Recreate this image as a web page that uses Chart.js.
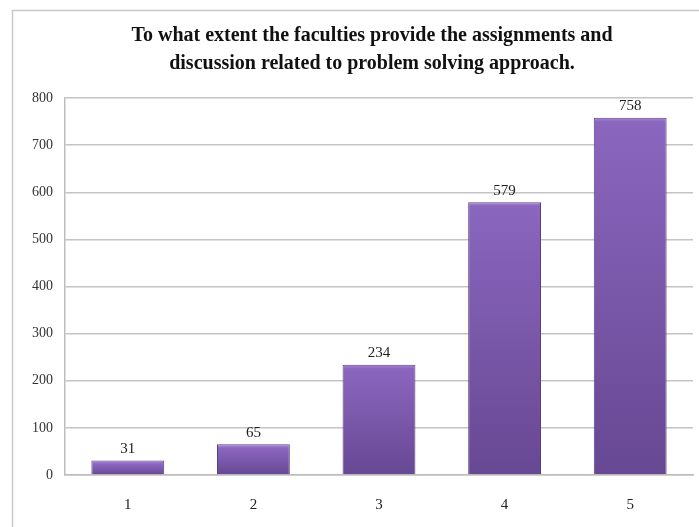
<!DOCTYPE html>
<html>
<head>
<meta charset="utf-8">
<script src="https://cdn.jsdelivr.net/npm/chart.js@4.4.1/dist/chart.umd.min.js"></script>
<style>
  html, body { margin: 0; padding: 0; background: #fff; }
  #wrap { width: 699px; height: 527px; }
</style>
</head>
<body>
<div id="wrap"><canvas id="chart" width="699" height="527"></canvas></div>
<script>
const categories = ["1", "2", "3", "4", "5"];
const responses = [31, 65, 234, 579, 758];
const yTicks = [0, 100, 200, 300, 400, 500, 600, 700, 800];
const chartTitle = ["To what extent the faculties provide the assignments and", "discussion related to problem solving approach."];

const serif = "'Liberation Serif', 'DejaVu Serif', serif";

// outer frame and the title, drawn like the office chart
const framePlugin = {
    id: "frame",
    beforeDraw(chart) {
        let ctx = chart.ctx;
        ctx.save();
        ctx.strokeStyle = "#c8c8c8";
        ctx.lineWidth = 1.5;
        ctx.beginPath();
        ctx.moveTo(12.5, 527);
        ctx.lineTo(12.5, 10.5);
        ctx.lineTo(699, 10.5);
        ctx.stroke();

        ctx.fillStyle = "#111";
        ctx.font = "bold 20px " + serif;
        ctx.textAlign = "center";
        ctx.textBaseline = "middle";
        ctx.fillText(chartTitle[0], 372, 36);
        ctx.fillText(chartTitle[1], 372, 64);
        ctx.restore();
    }
};

// value labels above the bars
const valueLabels = {
    id: "valueLabels",
    afterDatasetsDraw(chart) {
        let ctx = chart.ctx;
        let meta = chart.getDatasetMeta(0);
        ctx.save();
        ctx.font = "15px " + serif;
        ctx.fillStyle = "#222";
        ctx.textAlign = "center";
        ctx.textBaseline = "bottom";
        meta.data.forEach((bar, i) => {
            ctx.fillText(responses[i], bar.x, bar.y - 4);
        });
        ctx.restore();
    }
};

function barFill(context) {
    let chart = context.chart;
    let y = chart.scales.y;
    if (!y || !chart.chartArea) return "#7d5cb0";
    let top = y.getPixelForValue(responses[context.dataIndex]);
    let bottom = y.getPixelForValue(0);
    let h = Math.max(bottom - top, 1);
    let g = chart.ctx.createLinearGradient(0, top, 0, bottom);
    g.addColorStop(0, "#a98ad8");
    g.addColorStop(Math.min(4 / h, 0.5), "#8a66be");
    g.addColorStop(1, "#674893");
    return g;
}

new Chart(document.getElementById("chart"), {
    type: "bar",
    data: {
        labels: categories,
        datasets: [{
            data: responses,
            backgroundColor: barFill,
            borderColor: "#5a3f80",
            borderWidth: 1,
            categoryPercentage: 1,
            barPercentage: 0.58
        }]
    },
    options: {
        responsive: false,
        animation: false,
        layout: { padding: { left: 20, right: 6, top: 98, bottom: 0 } },
        plugins: {
            legend: { display: false },
            tooltip: { enabled: false },
            title: { display: false }
        },
        scales: {
            x: {
                grid: { display: false },
                border: { color: "#bdbdbd", width: 1.5 },
                ticks: {
                    color: "#222",
                    padding: 13,
                    font: { family: serif, size: 15 }
                }
            },
            y: {
                min: 0,
                max: 800,
                afterBuildTicks(axis) {
                    axis.ticks = yTicks.map(v => ({ value: v }));
                },
                grid: { color: "#c4c4c4", lineWidth: 1.5, drawTicks: false },
                border: { color: "#bdbdbd", width: 1.5 },
                ticks: {
                    color: "#333",
                    padding: 12,
                    font: { family: serif, size: 14 }
                }
            }
        }
    },
    plugins: [framePlugin, valueLabels]
});
</script>
</body>
</html>
